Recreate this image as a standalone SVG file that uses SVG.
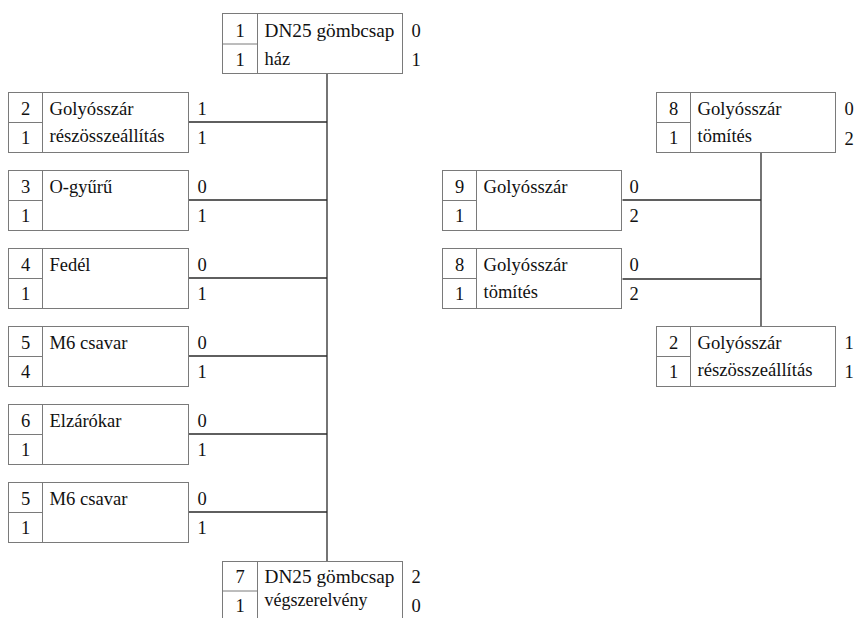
<svg xmlns="http://www.w3.org/2000/svg" width="857" height="618" viewBox="0 0 857 618">
<style>
.b{fill:#fff;stroke:#7a7a7a;stroke-width:1}
.c{stroke:#2a2a2a;stroke-width:1.3;fill:none}
text{fill:#111;font-family:'Liberation Serif','Times New Roman',serif;font-size:18.5px}
.n{text-anchor:middle}
</style>
<rect width="857" height="618" fill="#fff"/>
<g id="connectors">
<line class="c" x1="327" y1="73.5" x2="327" y2="561.5"/>
<line class="c" x1="188.5" y1="122" x2="327" y2="122"/>
<line class="c" x1="188.5" y1="200" x2="327" y2="200"/>
<line class="c" x1="188.5" y1="278" x2="327" y2="278"/>
<line class="c" x1="188.5" y1="356" x2="327" y2="356"/>
<line class="c" x1="188.5" y1="434" x2="327" y2="434"/>
<line class="c" x1="188.5" y1="512" x2="327" y2="512"/>
<line class="c" x1="761" y1="152.5" x2="761" y2="326.5"/>
<line class="c" x1="622.5" y1="200" x2="761" y2="200"/>
<line class="c" x1="622.5" y1="279" x2="761" y2="279"/>
</g>
<g id="n1" transform="translate(222.5,13.5)">
<rect class="b" width="180" height="60"/><line class="b" x1="35" y1="0" x2="35" y2="60"/><line class="b" x1="0" y1="30.5" x2="35" y2="30.5"/>
<text class="n" x="17.5" y="23">1</text><text class="n" x="17.5" y="52">1</text>
<text x="42" y="23" textLength="130" lengthAdjust="spacingAndGlyphs">DN25 gömbcsap</text><text x="42" y="51" textLength="25.7" lengthAdjust="spacingAndGlyphs">ház</text>
<text x="189" y="23">0</text><text x="189" y="52">1</text>
</g>
<g id="n2" transform="translate(8.5,92.5)">
<rect class="b" width="180" height="60"/><line class="b" x1="34" y1="0" x2="34" y2="60"/><line class="b" x1="0" y1="30" x2="34" y2="30"/>
<text class="n" x="17" y="22.5">2</text><text class="n" x="17" y="51">1</text>
<text x="41" y="22.5" textLength="84" lengthAdjust="spacingAndGlyphs">Golyósszár</text><text x="41" y="49" textLength="115" lengthAdjust="spacingAndGlyphs">részösszeállítás</text>
<text x="189" y="22.5">1</text><text x="189" y="51">1</text>
</g>
<g id="n3" transform="translate(8.5,170.5)">
<rect class="b" width="180" height="60"/><line class="b" x1="34" y1="0" x2="34" y2="60"/><line class="b" x1="0" y1="30" x2="34" y2="30"/>
<text class="n" x="17" y="22.5">3</text><text class="n" x="17" y="51">1</text>
<text x="41" y="22.5" textLength="62.7" lengthAdjust="spacingAndGlyphs">O-gyűrű</text>
<text x="189" y="22.5">0</text><text x="189" y="51">1</text>
</g>
<g id="n4" transform="translate(8.5,248.5)">
<rect class="b" width="180" height="60"/><line class="b" x1="34" y1="0" x2="34" y2="60"/><line class="b" x1="0" y1="30" x2="34" y2="30"/>
<text class="n" x="17" y="22.5">4</text><text class="n" x="17" y="51">1</text>
<text x="41" y="22.5" textLength="41" lengthAdjust="spacingAndGlyphs">Fedél</text>
<text x="189" y="22.5">0</text><text x="189" y="51">1</text>
</g>
<g id="n5" transform="translate(8.5,326.5)">
<rect class="b" width="180" height="60"/><line class="b" x1="34" y1="0" x2="34" y2="60"/><line class="b" x1="0" y1="30" x2="34" y2="30"/>
<text class="n" x="17" y="22.5">5</text><text class="n" x="17" y="51">4</text>
<text x="41" y="22.5" textLength="78" lengthAdjust="spacingAndGlyphs">M6 csavar</text>
<text x="189" y="22.5">0</text><text x="189" y="51">1</text>
</g>
<g id="n6" transform="translate(8.5,404.5)">
<rect class="b" width="180" height="60"/><line class="b" x1="34" y1="0" x2="34" y2="60"/><line class="b" x1="0" y1="30" x2="34" y2="30"/>
<text class="n" x="17" y="22.5">6</text><text class="n" x="17" y="51">1</text>
<text x="41" y="22.5" textLength="72" lengthAdjust="spacingAndGlyphs">Elzárókar</text>
<text x="189" y="22.5">0</text><text x="189" y="51">1</text>
</g>
<g id="n5b" transform="translate(8.5,482.5)">
<rect class="b" width="180" height="60"/><line class="b" x1="34" y1="0" x2="34" y2="60"/><line class="b" x1="0" y1="30" x2="34" y2="30"/>
<text class="n" x="17" y="22.5">5</text><text class="n" x="17" y="51">1</text>
<text x="41" y="22.5" textLength="78" lengthAdjust="spacingAndGlyphs">M6 csavar</text>
<text x="189" y="22.5">0</text><text x="189" y="51">1</text>
</g>
<g id="n7" transform="translate(222.5,561.5)">
<rect class="b" width="180" height="60"/><line class="b" x1="35" y1="0" x2="35" y2="60"/><line class="b" x1="0" y1="29.5" x2="35" y2="29.5"/>
<text class="n" x="17.5" y="21">7</text><text class="n" x="17.5" y="50">1</text>
<text x="42" y="21" textLength="130" lengthAdjust="spacingAndGlyphs">DN25 gömbcsap</text><text x="42" y="44" textLength="103" lengthAdjust="spacingAndGlyphs">végszerelvény</text>
<text x="189" y="21">2</text><text x="189" y="50">0</text>
</g>
<g id="n8" transform="translate(656.5,92.5)">
<rect class="b" width="179" height="60"/><line class="b" x1="34" y1="0" x2="34" y2="60"/><line class="b" x1="0" y1="30" x2="34" y2="30"/>
<text class="n" x="17" y="22.5">8</text><text class="n" x="17" y="51">1</text>
<text x="41" y="22.5" textLength="84" lengthAdjust="spacingAndGlyphs">Golyósszár</text><text x="41" y="49" textLength="54.5" lengthAdjust="spacingAndGlyphs">tömítés</text>
<text x="188" y="22.5">0</text><text x="188" y="52">2</text>
</g>
<g id="n9" transform="translate(442.5,170.5)">
<rect class="b" width="179" height="60"/><line class="b" x1="34" y1="0" x2="34" y2="60"/><line class="b" x1="0" y1="30" x2="34" y2="30"/>
<text class="n" x="17" y="22.5">9</text><text class="n" x="17" y="51">1</text>
<text x="41" y="22.5" textLength="84" lengthAdjust="spacingAndGlyphs">Golyósszár</text>
<text x="187" y="22.5">0</text><text x="187" y="51">2</text>
</g>
<g id="n8b" transform="translate(442.5,248.5)">
<rect class="b" width="179" height="60"/><line class="b" x1="34" y1="0" x2="34" y2="60"/><line class="b" x1="0" y1="30" x2="34" y2="30"/>
<text class="n" x="17" y="22.5">8</text><text class="n" x="17" y="51">1</text>
<text x="41" y="22.5" textLength="84" lengthAdjust="spacingAndGlyphs">Golyósszár</text><text x="41" y="49" textLength="54.5" lengthAdjust="spacingAndGlyphs">tömítés</text>
<text x="187" y="22.5">0</text><text x="187" y="51">2</text>
</g>
<g id="n2b" transform="translate(656.5,326.5)">
<rect class="b" width="179" height="60"/><line class="b" x1="34" y1="0" x2="34" y2="60"/><line class="b" x1="0" y1="30" x2="34" y2="30"/>
<text class="n" x="17" y="22.5">2</text><text class="n" x="17" y="51">1</text>
<text x="41" y="22.5" textLength="84" lengthAdjust="spacingAndGlyphs">Golyósszár</text><text x="41" y="49" textLength="115" lengthAdjust="spacingAndGlyphs">részösszeállítás</text>
<text x="188" y="22.5">1</text><text x="188" y="51">1</text>
</g>
</svg>
